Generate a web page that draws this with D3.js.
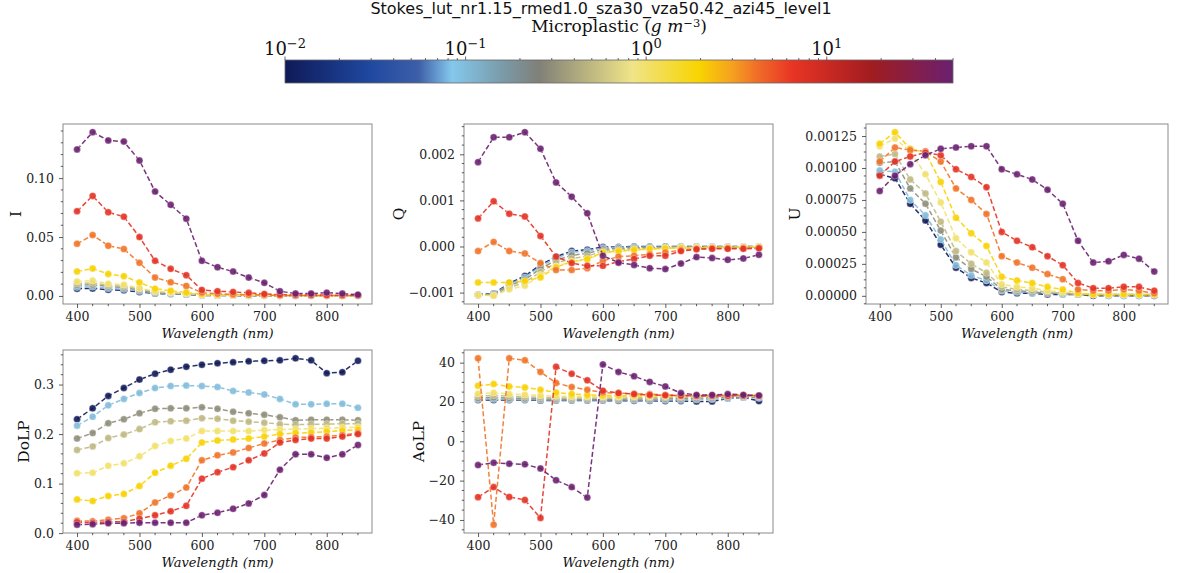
<!DOCTYPE html>
<html><head><meta charset="utf-8">
<script src="https://cdn.jsdelivr.net/npm/d3@7"></script>
<style>body{margin:0;background:#fff} svg{display:block}</style>
</head><body><svg id="c" width="1181" height="573"></svg>
<script>
// ---------------- data ----------------
const wavelengths = [400,425,450,475,500,525,550,575,600,625,650,675,700,725,750,775,800,825,850];
const concentrations = [0.01,0.1,0.3,0.5,1,2,4,7,50];   // g m^-3, one per series
const colorbarTicks = [0.01,0.1,1,10];
const colorbarTickLabels = ["−2","−1","0","1"];
const xTicks = [400,500,600,700,800];
const I_ticks = [0,0.05,0.10];
const Q_ticks = [-0.001,0,0.001,0.002];
const U_ticks = [0,0.00025,0.0005,0.00075,0.001,0.00125];
const DoLP_ticks = [0,0.1,0.2,0.3];
const AoLP_ticks = [-40,-20,0,20,40];

const cmapStops  = [0,0.127,0.2,0.25,0.327,0.38,0.52,0.62,0.67,0.71,0.76,0.88,1];
const cmapColors = ["#0f1a58","#1f48a0","#3d5fa8","#84c8ec","#7a9aa8","#808078","#f0e488","#f8d400","#f6a020","#f06a28","#e83424","#a01c20","#6a2070"];

const I_data = [
 [0.0062,0.0063,0.0053,0.0048,0.0034,0.0021,0.0016,0.0012,0.0005,0.0004,0.0003,0.0002,0.0002,0.0001,0.0001,0.0001,0.0001,0.0001,0.0001],
 [0.0075,0.0078,0.0065,0.0058,0.0041,0.0025,0.0019,0.0014,0.0006,0.0005,0.0004,0.0003,0.0002,0.0002,0.0001,0.0001,0.0001,0.0001,0.0001],
 [0.0092,0.0095,0.0080,0.0072,0.0050,0.0030,0.0023,0.0017,0.0008,0.0006,0.0005,0.0004,0.0003,0.0002,0.0002,0.0001,0.0001,0.0001,0.0001],
 [0.0105,0.0110,0.0090,0.0083,0.0058,0.0035,0.0027,0.0019,0.0009,0.0007,0.0005,0.0004,0.0003,0.0002,0.0002,0.0001,0.0001,0.0001,0.0001],
 [0.0122,0.0130,0.0104,0.0095,0.0066,0.0040,0.0030,0.0022,0.0010,0.0008,0.0006,0.0005,0.0004,0.0003,0.0002,0.0002,0.0002,0.0001,0.0001],
 [0.0208,0.0232,0.0186,0.0168,0.0114,0.0062,0.0044,0.0029,0.0015,0.0011,0.0009,0.0007,0.0005,0.0004,0.0003,0.0003,0.0003,0.0002,0.0002],
 [0.0443,0.0517,0.0426,0.0398,0.0281,0.0156,0.0116,0.0085,0.0028,0.0018,0.0013,0.0010,0.0008,0.0005,0.0004,0.0004,0.0004,0.0003,0.0003],
 [0.0719,0.0849,0.0710,0.0673,0.0500,0.0298,0.0230,0.0176,0.0051,0.0040,0.0034,0.0026,0.0017,0.0010,0.0008,0.0007,0.0007,0.0006,0.0005],
 [0.1244,0.1390,0.1320,0.1310,0.1150,0.0886,0.0773,0.0656,0.0298,0.0244,0.0207,0.0156,0.0111,0.0040,0.0020,0.0020,0.0028,0.0020,0.0011]
];
const Q_data = [
 [-0.00104,-0.00102,-0.00080,-0.00064,-0.00040,-0.00022,-0.00010,-0.00007,-0.00001,-0.00001,0,0,0,0,0,0,0,0,0],
 [-0.00105,-0.00103,-0.00082,-0.00067,-0.00043,-0.00025,-0.00013,-0.00010,-0.00003,-0.00002,-0.00001,-0.00001,-0.00001,0,0,0,0,0,0],
 [-0.00105,-0.00104,-0.00085,-0.00072,-0.00048,-0.00030,-0.00019,-0.00015,-0.00006,-0.00004,-0.00003,-0.00002,-0.00002,-0.00001,-0.00001,-0.00001,-0.00001,-0.00001,-0.00001],
 [-0.00106,-0.00106,-0.00089,-0.00078,-0.00055,-0.00036,-0.00026,-0.00021,-0.00010,-0.00007,-0.00005,-0.00004,-0.00003,-0.00002,-0.00002,-0.00001,-0.00001,-0.00001,-0.00001],
 [-0.00105,-0.00107,-0.00093,-0.00085,-0.00062,-0.00043,-0.00033,-0.00028,-0.00014,-0.00011,-0.00008,-0.00006,-0.00004,-0.00003,-0.00002,-0.00002,-0.00002,-0.00001,-0.00001],
 [-0.00078,-0.00078,-0.00078,-0.00075,-0.00067,-0.00045,-0.00033,-0.00027,-0.00013,-0.00010,-0.00007,-0.00005,-0.00004,-0.00003,-0.00003,-0.00002,-0.00002,-0.00002,-0.00001],
 [-0.00010,0.00010,-0.00010,-0.00015,-0.00036,-0.00051,-0.00051,-0.00047,-0.00031,-0.00022,-0.00020,-0.00017,-0.00013,-0.00008,-0.00005,-0.00004,-0.00004,-0.00003,-0.00003],
 [0.00061,0.00098,0.00071,0.00065,0.00023,-0.00022,-0.00036,-0.00042,-0.00042,-0.00033,-0.00027,-0.00020,-0.00020,-0.00010,-0.00006,-0.00005,-0.00005,-0.00005,-0.00004],
 [0.00183,0.00237,0.00237,0.00248,0.00212,0.00139,0.00108,0.00072,-0.00020,-0.00035,-0.00040,-0.00047,-0.00049,-0.00037,-0.00023,-0.00025,-0.00029,-0.00026,-0.00018]
];
const U_data = [
 [0.00095,0.00092,0.00072,0.00059,0.00040,0.00022,0.00014,0.00010,0.00003,0.00002,0.00002,0.00001,0.00001,0.00001,0,0,0,0,0],
 [0.00098,0.00097,0.00075,0.00063,0.00044,0.00024,0.00016,0.00012,0.00004,0.00003,0.00002,0.00002,0.00001,0.00001,0.00001,0,0,0,0],
 [0.00104,0.00105,0.00084,0.00072,0.00051,0.00030,0.00021,0.00015,0.00005,0.00004,0.00003,0.00002,0.00002,0.00001,0.00001,0.00001,0.00001,0.00001,0],
 [0.00109,0.00111,0.00091,0.00080,0.00058,0.00035,0.00025,0.00018,0.00007,0.00005,0.00004,0.00003,0.00002,0.00001,0.00001,0.00001,0.00001,0.00001,0.00001],
 [0.00117,0.00123,0.00113,0.00095,0.00073,0.00045,0.00034,0.00026,0.00009,0.00007,0.00006,0.00004,0.00003,0.00002,0.00001,0.00001,0.00001,0.00001,0.00001],
 [0.00119,0.00128,0.00115,0.00112,0.00089,0.00061,0.00049,0.00039,0.00015,0.00012,0.00010,0.00007,0.00005,0.00002,0.00001,0.00001,0.00001,0.00001,0.00001],
 [0.00105,0.00116,0.00114,0.00113,0.00105,0.00084,0.00075,0.00064,0.00031,0.00026,0.00022,0.00017,0.00013,0.00005,0.00004,0.00004,0.00005,0.00004,0.00002],
 [0.00094,0.00105,0.00109,0.00112,0.00110,0.00099,0.00093,0.00085,0.00050,0.00043,0.00038,0.00031,0.00024,0.00010,0.00006,0.00006,0.00007,0.00007,0.00004],
 [0.00082,0.00094,0.00103,0.00110,0.00115,0.00116,0.00117,0.00117,0.00099,0.00095,0.00091,0.00083,0.00072,0.00043,0.00026,0.00027,0.00032,0.00029,0.00019]
];
const DoLP_data = [
 [0.230,0.252,0.277,0.293,0.310,0.322,0.330,0.336,0.340,0.343,0.345,0.347,0.348,0.349,0.353,0.349,0.323,0.325,0.348],
 [0.217,0.235,0.258,0.271,0.283,0.293,0.297,0.298,0.297,0.295,0.287,0.284,0.280,0.271,0.260,0.260,0.261,0.261,0.253],
 [0.191,0.202,0.222,0.230,0.242,0.251,0.252,0.252,0.254,0.251,0.245,0.242,0.239,0.234,0.228,0.229,0.229,0.229,0.228],
 [0.168,0.175,0.192,0.199,0.210,0.224,0.226,0.227,0.232,0.231,0.227,0.225,0.223,0.220,0.219,0.220,0.220,0.221,0.221],
 [0.121,0.122,0.136,0.141,0.155,0.176,0.186,0.191,0.206,0.206,0.206,0.206,0.208,0.209,0.210,0.211,0.212,0.213,0.214],
 [0.068,0.065,0.075,0.079,0.095,0.122,0.136,0.150,0.183,0.187,0.189,0.191,0.195,0.200,0.202,0.203,0.205,0.207,0.209],
 [0.025,0.024,0.027,0.030,0.040,0.062,0.076,0.092,0.147,0.157,0.163,0.172,0.181,0.188,0.193,0.194,0.195,0.198,0.202],
 [0.022,0.021,0.023,0.023,0.029,0.036,0.044,0.055,0.110,0.123,0.133,0.147,0.161,0.183,0.188,0.191,0.191,0.195,0.200],
 [0.017,0.018,0.020,0.020,0.021,0.021,0.021,0.021,0.036,0.041,0.049,0.060,0.077,0.128,0.159,0.159,0.152,0.159,0.178]
];
const AoLP_data = [
 [21.0,21.0,21.0,21.0,20.8,20.8,20.7,20.7,20.7,20.6,20.6,20.6,20.5,20.5,20.3,20.3,21.8,22.3,20.5],
 [21.4,21.5,21.3,21.2,21.1,21.0,21.0,21.0,21.0,21.0,21.0,21.0,21.0,21.0,21.2,21.4,21.8,22.3,22.0],
 [22.0,22.3,22.0,21.8,21.6,21.5,21.4,21.4,21.4,21.4,21.5,21.5,21.6,21.7,21.9,22.1,22.4,22.6,22.5],
 [23.0,23.4,22.9,22.6,22.3,22.1,22.0,22.0,22.0,22.0,22.1,22.2,22.3,22.4,22.6,22.7,22.9,23.0,22.9],
 [24.2,24.7,24.0,23.7,23.3,23.0,22.8,22.7,22.7,22.7,22.8,22.8,22.9,23.0,23.0,23.1,23.2,23.3,23.2],
 [28.3,29.1,27.9,27.4,26.2,24.8,24.1,23.6,23.3,23.2,23.2,23.2,23.2,23.2,23.2,23.3,23.3,23.4,23.3],
 [42.2,-42.4,42.2,41.2,35.3,29.7,27.6,26.2,24.8,24.5,24.1,24.0,23.6,23.4,23.3,23.3,23.3,23.4,23.3],
 [-28.4,-23.3,-28.3,-29.8,-39.0,37.9,34.3,31.0,25.7,24.5,24.0,23.6,23.4,23.2,23.1,23.1,23.1,23.2,23.1],
 [-12.1,-10.9,-11.4,-11.7,-13.8,-19.8,-23.3,-28.6,39.1,35.3,33.1,30.2,27.9,24.5,23.6,23.6,24.0,23.6,23.3]
];

// ---------------- drawing ----------------
const svg = d3.select("#c");
const SERIF = "'DejaVu Serif', serif";
const SANS = "'DejaVu Sans', sans-serif";
const cbMin = 0.01, cbMax = 50;
const cmap = d3.scaleLinear().domain(cmapStops).range(cmapColors).interpolate(d3.interpolateRgb);
const cLog = d3.scaleLog().domain([cbMin, cbMax]).range([0,1]);
const colorOf = c => cmap(cLog(c));

// title
svg.append("text").attr("x", 601).attr("y", 14).attr("text-anchor","middle")
  .attr("font-family", SANS).attr("font-size", 16).attr("fill","#111")
  .text("Stokes_lut_nr1.15_rmed1.0_sza30_vza50.42_azi45_level1");

// colorbar
const cb = {x:285, y:60, w:668, h:23};
const defs = svg.append("defs");
const grad = defs.append("linearGradient").attr("id","cbg").attr("x1","0%").attr("x2","100%");
cmapStops.forEach((s,i)=> grad.append("stop").attr("offset", (s*100)+"%").attr("stop-color", cmapColors[i]));
svg.append("rect").attr("x",cb.x).attr("y",cb.y).attr("width",cb.w).attr("height",cb.h).attr("fill","url(#cbg)")
  .attr("stroke","#666").attr("stroke-width",0.8);
const cbScale = d3.scaleLog().domain([cbMin, cbMax]).range([cb.x, cb.x+cb.w]);
const cbMinor = [];
[0.01,0.1,1,10].forEach(dec => { for (let k=2;k<=9;k++){ const v=dec*k; if (v<=cbMax+1e-9) cbMinor.push(v);} });
svg.append("g").selectAll("line").data(cbMinor).join("line")
  .attr("x1",d=>cbScale(d)).attr("x2",d=>cbScale(d)).attr("y1",cb.y).attr("y2",cb.y-2)
  .attr("stroke","#444").attr("stroke-width",0.8);
svg.append("g").selectAll("line").data(colorbarTicks).join("line")
  .attr("x1",d=>cbScale(d)).attr("x2",d=>cbScale(d)).attr("y1",cb.y).attr("y2",cb.y-3.5)
  .attr("stroke","#444").attr("stroke-width",0.8);
const cbl = svg.append("g").selectAll("text").data(colorbarTicks).join("text")
  .attr("x",d=>cbScale(d)).attr("y",cb.y-5).attr("text-anchor","middle")
  .attr("font-family",SERIF).attr("font-size",18).attr("fill","#111");
cbl.append("tspan").text("10");
cbl.append("tspan").attr("dy",-7).attr("font-size",13).text((d,i)=>colorbarTickLabels[i]);
const cbLab = svg.append("text").attr("x", cb.x+cb.w/2).attr("y", 32).attr("text-anchor","middle")
  .attr("font-family",SERIF).attr("font-size",17).attr("fill","#111");
cbLab.append("tspan").text("Microplastic (");
cbLab.append("tspan").attr("font-style","italic").text("g m");
cbLab.append("tspan").attr("dy",-5).attr("font-size",11.5).text("−3");
cbLab.append("tspan").attr("dy",5).text(")");

// panels
const panels = [
  {name:"I",    data:I_data,    ticks:I_ticks,    fmt:d=>d.toFixed(2), minor:0.01,     x:63,  y:124, w:309, h:180},
  {name:"Q",    data:Q_data,    ticks:Q_ticks,    fmt:d=>d.toFixed(3), minor:0.0002,   x:464, y:124, w:309, h:180},
  {name:"U",    data:U_data,    ticks:U_ticks,    fmt:d=>d.toFixed(5), minor:0.0000625,x:866, y:124, w:302, h:180},
  {name:"DoLP", data:DoLP_data, ticks:DoLP_ticks, fmt:d=>d.toFixed(1), minor:0.02,     x:63,  y:350, w:309, h:183},
  {name:"AoLP", data:AoLP_data, ticks:AoLP_ticks, fmt:d=>d.toFixed(0), minor:5,        x:464, y:350, w:309, h:183}
];
const fmtMinus = s => s.replace("-", "−");

panels.forEach(p => {
  const g = svg.append("g").attr("transform",`translate(${p.x},${p.y})`);
  const xr = [d3.min(wavelengths), d3.max(wavelengths)];
  const xpad = (xr[1]-xr[0])*0.05;
  const x = d3.scaleLinear().domain([xr[0]-xpad, xr[1]+xpad]).range([0,p.w]);
  const all = p.data.flat();
  const lo = d3.min(all), hi = d3.max(all), ypad = (hi-lo)*0.05;
  const y = d3.scaleLinear().domain([lo-ypad, hi+ypad]).range([p.h,0]);

  // frame
  g.append("rect").attr("width",p.w).attr("height",p.h).attr("fill","none").attr("stroke","#8a8a8a").attr("stroke-width",1);

  // x axis
  const xAxis = d3.axisBottom(x).tickValues(xTicks).tickSize(4).tickPadding(4).tickFormat(d3.format("d"));
  const xg = g.append("g").attr("transform",`translate(0,${p.h})`).call(xAxis);
  const xMinor = d3.range(375, 875.1, 25).filter(v => v>=x.domain()[0] && v<=x.domain()[1] && !xTicks.includes(v));
  xg.selectAll(".minor").data(xMinor).join("line").attr("class","minor")
    .attr("x1",d=>x(d)).attr("x2",d=>x(d)).attr("y1",0).attr("y2",2.2);
  // y axis
  const yAxis = d3.axisLeft(y).tickValues(p.ticks).tickSize(4).tickPadding(5).tickFormat(d=>fmtMinus(p.fmt(d)));
  const yg = g.append("g").call(yAxis);
  const [d0,d1] = y.domain();
  const yMinor = [];
  for (let v = Math.ceil(d0/p.minor)*p.minor; v <= d1; v += p.minor) {
    if (!p.ticks.some(t => Math.abs(t-v) < p.minor*0.01)) yMinor.push(v);
  }
  yg.selectAll(".minor").data(yMinor).join("line").attr("class","minor")
    .attr("x1",0).attr("x2",-2.2).attr("y1",d=>y(d)).attr("y2",d=>y(d));
  [xg,yg].forEach(a => {
    a.select(".domain").remove();
    a.selectAll("line").attr("stroke","#333").attr("stroke-width",0.8);
    a.selectAll("text").attr("font-family",SERIF).attr("font-size",12.5).attr("fill","#222");
  });

  // series
  const line = d3.line().x((d,i)=>x(wavelengths[i])).y(d=>y(d));
  p.data.forEach((vals, si) => {
    const col = colorOf(concentrations[si]);
    g.append("path").datum(vals).attr("d", line).attr("fill","none")
      .attr("stroke", col).attr("stroke-width",1.5).attr("stroke-dasharray","5,2.6").attr("opacity",0.9);
    g.append("g").selectAll("circle").data(vals).join("circle")
      .attr("cx",(d,i)=>x(wavelengths[i])).attr("cy",d=>y(d)).attr("r",3.5)
      .attr("fill", col).attr("fill-opacity",0.9)
      .attr("stroke","#ffffff").attr("stroke-opacity",0.45).attr("stroke-width",0.8);
  });

  // labels
  const yb = yg.node().getBBox();
  g.append("text").attr("transform",`translate(${yb.x-5},${p.h/2}) rotate(-90)`).attr("text-anchor","middle")
    .attr("font-family",SERIF).attr("font-size",15.5).attr("fill","#111").text(p.name);
  g.append("text").attr("x",p.w/2).attr("y",p.h+33.5).attr("text-anchor","middle")
    .attr("font-family",SERIF).attr("font-style","italic").attr("font-size",13).attr("fill","#111")
    .text("Wavelength (nm)");
});
</script></body></html>
